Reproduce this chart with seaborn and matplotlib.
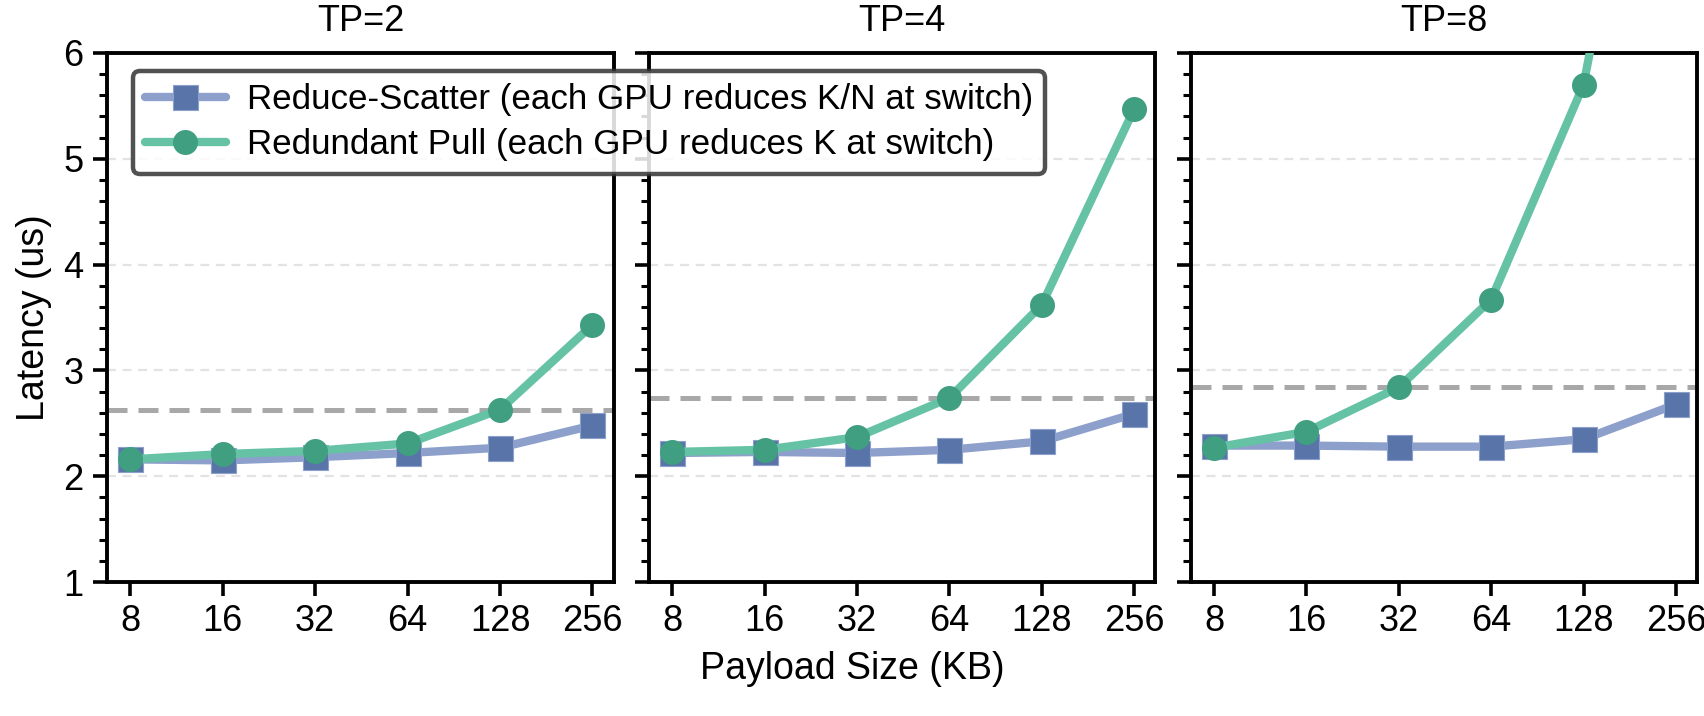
import numpy as np
import pandas as pd
import matplotlib
matplotlib.use("Agg")
import matplotlib.pyplot as plt
from matplotlib.ticker import MultipleLocator
import seaborn as sns

payload_kb = [8, 16, 32, 64, 128, 256]
tp_groups = ["TP=2", "TP=4", "TP=8"]

rs_tp2 = [2.16, 2.15, 2.18, 2.22, 2.27, 2.48]
rp_tp2 = [2.16, 2.21, 2.24, 2.31, 2.63, 3.43]
rs_tp4 = [2.22, 2.23, 2.22, 2.25, 2.33, 2.59]
rp_tp4 = [2.23, 2.25, 2.37, 2.74, 3.62, 5.47]
rs_tp8 = [2.29, 2.29, 2.28, 2.28, 2.35, 2.68]
rp_tp8 = [2.27, 2.42, 2.84, 3.67, 5.70, 10.2]
ref_line = [2.63, 2.74, 2.84]

rs_label = "Reduce-Scatter (each GPU reduces K/N at switch)"
rp_label = "Redundant Pull (each GPU reduces K at switch)"

sns.set_theme(style="ticks")
plt.rcParams["font.family"] = ["Liberation Sans", "DejaVu Sans"]
plt.rcParams["text.color"] = "black"
plt.rcParams["axes.labelcolor"] = "black"
plt.rcParams["xtick.color"] = "black"
plt.rcParams["ytick.color"] = "black"

rs_line, rs_mark = "#8da0cb", "#5974a8"
rp_line, rp_mark = "#66c2a5", "#3f9f80"

fig, axes = plt.subplots(1, 3, figsize=(8.52, 3.58), dpi=200, sharey=True)
fig.subplots_adjust(left=0.063, right=0.996, top=0.926, bottom=0.187, wspace=0.07)

rs_all = [rs_tp2, rs_tp4, rs_tp8]
rp_all = [rp_tp2, rp_tp4, rp_tp8]

for i, ax in enumerate(axes):
    df_rs = pd.DataFrame({"payload": payload_kb, "latency": rs_all[i]})
    df_rp = pd.DataFrame({"payload": payload_kb, "latency": rp_all[i]})
    ax.yaxis.grid(True, which="major", color="#e3e3e3", linestyle=(0, (4, 3)), linewidth=0.8)
    ax.set_axisbelow(True)
    ax.axhline(ref_line[i], color="#a8a8a8", linestyle=(0, (4, 2.2)), linewidth=1.8, zorder=2)
    sns.lineplot(data=df_rs, x="payload", y="latency", ax=ax, color=rs_line, linewidth=3,
                 marker="s", markersize=9, markerfacecolor=rs_mark, markeredgecolor="#8da0cb",
                 markeredgewidth=0.4, label=rs_label, zorder=3, legend=False)
    sns.lineplot(data=df_rp, x="payload", y="latency", ax=ax, color=rp_line, linewidth=3,
                 marker="o", markersize=9, markerfacecolor=rp_mark, markeredgecolor=rp_mark,
                 markeredgewidth=0, label=rp_label, zorder=4, legend=False)
    ax.set_xscale("log", base=2)
    ax.set_xlim(payload_kb[0] / 2 ** 0.25, payload_kb[-1] * 2 ** 0.23)
    ax.set_xticks(payload_kb)
    ax.set_xticklabels([str(p) for p in payload_kb])
    ax.xaxis.set_minor_locator(matplotlib.ticker.NullLocator())
    ax.set_ylim(1, 6)
    ax.yaxis.set_major_locator(MultipleLocator(1))
    ax.yaxis.set_minor_locator(MultipleLocator(0.2))
    ax.set_title(tp_groups[i], fontsize=13, pad=8, color="black")
    ax.set_xlabel("")
    ax.set_ylabel("")
    for s in ax.spines.values():
        s.set_linewidth(1.4)
        s.set_color("black")
        s.set_visible(True)
    ax.tick_params(axis="both", which="major", length=5, width=1.3, labelsize=13, color="black",
                   labelcolor="black")
    ax.tick_params(axis="y", which="minor", length=2.8, width=1.1, color="black")
    ax.tick_params(axis="x", which="major", pad=3)

axes[0].set_ylabel("Latency (us)", fontsize=13.5, labelpad=4, color="black")
fig.supxlabel("Payload Size (KB)", fontsize=13.5, y=0.04, color="black")

handles, labels = axes[0].get_legend_handles_labels()
leg = fig.legend(handles, labels, loc="upper left", bbox_to_anchor=(0.078, 0.901),
                 borderaxespad=0, fontsize=12.6, frameon=True, fancybox=True, framealpha=0.85,
                 handlelength=2.3, borderpad=0.35, labelspacing=0.35, handletextpad=0.6)
leg.get_frame().set_edgecolor("#333333")
leg.get_frame().set_linewidth(1.6)
for t in leg.get_texts():
    t.set_color("black")

fig.savefig("out.png", dpi=200)
